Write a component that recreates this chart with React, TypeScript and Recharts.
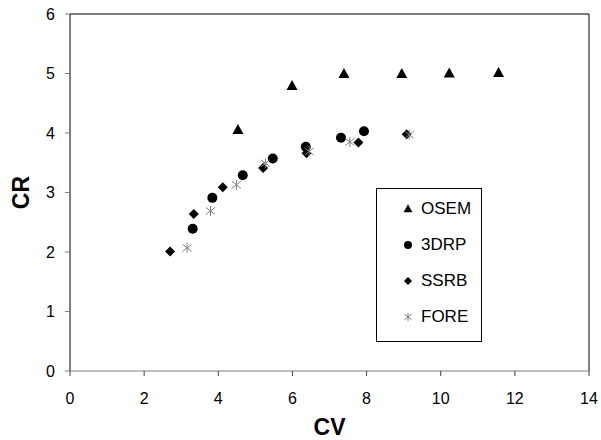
import { ScatterChart, Scatter, XAxis, YAxis, Legend, ReferenceLine, Label } from "recharts";

const xTicks = [0, 2, 4, 6, 8, 10, 12, 14];
const yTicks = [0, 1, 2, 3, 4, 5, 6];

const osemCV = [4.53, 5.99, 7.39, 8.95, 10.23, 11.56];
const osemCR = [4.05, 4.79, 4.99, 4.99, 5.0, 5.01];

const drpCV = [3.31, 3.84, 4.66, 5.47, 6.36, 7.31, 7.93];
const drpCR = [2.39, 2.91, 3.29, 3.57, 3.77, 3.92, 4.03];

const ssrbCV = [2.7, 3.34, 4.12, 5.21, 6.38, 7.78, 9.08];
const ssrbCR = [2.01, 2.64, 3.09, 3.41, 3.66, 3.84, 3.98];

const foreCV = [3.16, 3.79, 4.49, 5.27, 6.45, 7.55, 9.15];
const foreCR = [2.07, 2.69, 3.13, 3.49, 3.69, 3.85, 3.97];

const seriesNames = ["OSEM", "3DRP", "SSRB", "FORE"];

const toPoints = (xs: number[], ys: number[]) => xs.map((x, i) => ({ cv: x, cr: ys[i] }));

const FONT = "'Liberation Sans', Arial, sans-serif";
const GREY = "#808080";

const Triangle = ({ cx, cy, s = 1 }: any) => (
  <polygon
    points={`${cx},${cy - 6 * s} ${cx + 5.5 * s},${cy + 4 * s} ${cx - 5.5 * s},${cy + 4 * s}`}
    fill="#000"
  />
);
const Dot = ({ cx, cy, s = 1 }: any) => <circle cx={cx} cy={cy} r={5 * s} fill="#000" />;
const Diamond = ({ cx, cy, s = 1 }: any) => (
  <polygon
    points={`${cx},${cy - 5 * s} ${cx + 5 * s},${cy} ${cx},${cy + 5 * s} ${cx - 5 * s},${cy}`}
    fill="#000"
  />
);
const Star = ({ cx, cy, s = 1 }: any) => (
  <g stroke={GREY} strokeWidth={1}>
    <line x1={cx} y1={cy - 5 * s} x2={cx} y2={cy + 5 * s} />
    <line x1={cx - 4.5 * s} y1={cy - 3.5 * s} x2={cx + 4.5 * s} y2={cy + 3.5 * s} />
    <line x1={cx - 4.5 * s} y1={cy + 3.5 * s} x2={cx + 4.5 * s} y2={cy - 3.5 * s} />
  </g>
);

const shapes = [Triangle, Dot, Diamond, Star];

const LegendBox = () => (
  <div
    style={{
      border: "1px solid #000",
      background: "#fff",
      width: 106,
      height: 154,
      boxSizing: "border-box",
      paddingTop: 2,
      fontFamily: FONT,
      fontSize: 17,
      textAlign: "left",
    }}
  >
    {seriesNames.map((name, i) => {
      const Icon = shapes[i];
      return (
        <div key={name} style={{ height: 36, display: "flex", alignItems: "center" }}>
          <svg width={44} height={36} style={{ display: "block" }}>
            <Icon cx={31} cy={18} s={0.8} />
          </svg>
          <span>{name}</span>
        </div>
      );
    })}
  </div>
);

const CRLabel = ({ viewBox }: any) => {
  const x = 21;
  const y = viewBox.y + viewBox.height / 2;
  return (
    <text
      x={x}
      y={y}
      transform={`rotate(-90 ${x} ${y})`}
      textAnchor="middle"
      dominantBaseline="central"
      fontFamily={FONT}
      fontWeight="bold"
      fontSize={23}
      fill="#000"
    >
      CR
    </text>
  );
};

export default function App() {
  return (
    <div style={{ position: "absolute", left: 0, top: 0, width: 601, height: 440, background: "#fff" }}>
      <ScatterChart width={601} height={440} margin={{ top: 14, right: 12, bottom: 0, left: 0 }}>
        <XAxis
          dataKey="cv"
          type="number"
          domain={[0, 14]}
          ticks={xTicks}
          interval={0}
          height={69}
          axisLine={{ stroke: GREY }}
          tickLine={{ stroke: "#404040" }}
          tickSize={5}
          tickMargin={17}
          tick={{ fontSize: 16, fill: "#000", fontFamily: FONT }}
        >
          <Label
            value="CV"
            position="insideBottom"
            offset={5}
            style={{ fontSize: 23, fontWeight: "bold", fill: "#000", fontFamily: FONT }}
          />
        </XAxis>
        <YAxis
          dataKey="cr"
          type="number"
          domain={[0, 6]}
          ticks={yTicks}
          interval={0}
          width={70}
          axisLine={{ stroke: "#000" }}
          tickLine={{ stroke: GREY }}
          tickSize={5}
          tickMargin={10}
          tick={{ fontSize: 16, fill: "#000", fontFamily: FONT }}
        >
          <Label content={<CRLabel />} />
        </YAxis>
        <ReferenceLine y={6} stroke="#000" />
        <ReferenceLine x={14} stroke="#000" />
        <Legend
          layout="horizontal"
          verticalAlign="middle"
          align="center"
          content={<LegendBox />}
          wrapperStyle={{ position: "absolute", left: 376, top: 188, width: 106, height: 154 }}
        />
        <Scatter name="OSEM" data={toPoints(osemCV, osemCR)} shape={<Triangle />} isAnimationActive={false} />
        <Scatter name="3DRP" data={toPoints(drpCV, drpCR)} shape={<Dot />} isAnimationActive={false} />
        <Scatter name="SSRB" data={toPoints(ssrbCV, ssrbCR)} shape={<Diamond />} isAnimationActive={false} />
        <Scatter name="FORE" data={toPoints(foreCV, foreCR)} shape={<Star />} isAnimationActive={false} />
      </ScatterChart>
    </div>
  );
}
